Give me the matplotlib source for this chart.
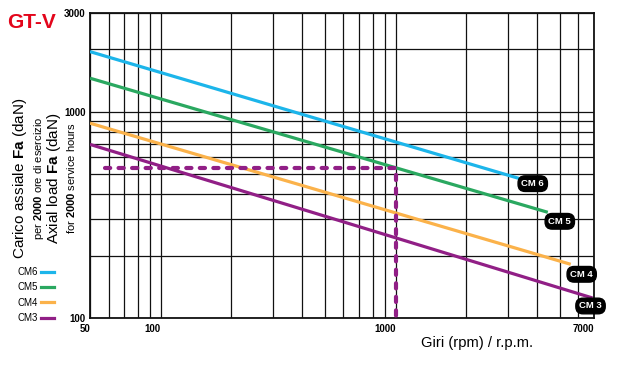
import matplotlib
matplotlib.use("Agg")
import matplotlib.pyplot as plt
from matplotlib.ticker import FixedLocator, NullFormatter, FixedFormatter
from matplotlib.lines import Line2D

plt.rcParams['font.family'] = ['Liberation Sans', 'DejaVu Sans']
plt.rcParams['mathtext.fontset'] = 'custom'
plt.rcParams['mathtext.rm'] = 'Liberation Sans'
plt.rcParams['mathtext.bf'] = 'Liberation Sans:bold'

# ---- data ----
series_names = ["CM6", "CM5", "CM4", "CM3"]
end_labels = ["CM 6", "CM 5", "CM 4", "CM 3"]
colors = ["#1cb5ea", "#2aa860", "#fbb24a", "#911f86"]
rpm_cm6 = [50, 3380]
load_cm6 = [1950, 473]
rpm_cm5 = [50, 4450]
load_cm5 = [1450, 325]
rpm_cm4 = [50, 5570]
load_cm4 = [878, 182]
rpm_cm3 = [50, 6900]
load_cm3 = [693, 125]
example_rpm = [58, 1000, 1000]
example_load = [532, 532, 100]

x_major = [50, 100, 1000, 7000]
x_minor = [60, 70, 80, 90, 200, 300, 400, 500, 600, 700, 800, 900,
           2000, 3000, 4000, 5000, 6000]
y_major = [100, 1000, 3000]
y_minor = [200, 300, 400, 500, 600, 700, 800, 900, 2000]

rpms = [rpm_cm6, rpm_cm5, rpm_cm4, rpm_cm3]
loads = [load_cm6, load_cm5, load_cm4, load_cm3]
label_offsets_px = [(13, 5), (12, 9), (11, 10), (-2, 8)]

fig = plt.figure(figsize=(6.36, 3.72), dpi=100)
ax = fig.add_axes([90/636, 1-318/372, (594-90)/636, (318-13)/372])
ax.set_xscale('log')
ax.set_yscale('log')
ax.set_xlim(50, 7000)
ax.set_ylim(100, 3000)

ax.xaxis.set_major_locator(FixedLocator(x_major))
ax.xaxis.set_major_formatter(FixedFormatter([str(v) for v in x_major]))
ax.xaxis.set_minor_locator(FixedLocator(x_minor))
ax.xaxis.set_minor_formatter(NullFormatter())
ax.yaxis.set_major_locator(FixedLocator(y_major))
ax.yaxis.set_major_formatter(FixedFormatter([str(v) for v in y_major]))
ax.yaxis.set_minor_locator(FixedLocator(y_minor))
ax.yaxis.set_minor_formatter(NullFormatter())
ax.grid(True, which='both', color='#111111', linewidth=0.9)
ax.tick_params(which='both', length=0, labelsize=7)
ax.tick_params(axis='x', pad=4)
ax.tick_params(axis='y', pad=3)
for lab in ax.get_xticklabels():
    lab.set_fontweight('bold')
    lab.set_horizontalalignment('right')
for lab in ax.get_yticklabels():
    lab.set_fontweight('bold')
for s in ax.spines.values():
    s.set_linewidth(1.3)
    s.set_color('#111111')
ax.set_axisbelow(True)

for r, l, c, lbl, (dx, dy) in zip(rpms, loads, colors, end_labels, label_offsets_px):
    ax.plot(r, l, color=c, linewidth=2.3, solid_capstyle='butt', zorder=3)
    ax.annotate(lbl, xy=(r[-1], l[-1]), xytext=(dx*0.72, -dy*0.72),
                textcoords='offset points', ha='center', va='center',
                color='white', fontsize=6.8, fontweight='bold', zorder=5,
                bbox=dict(boxstyle='round,pad=0.35,rounding_size=0.75',
                          fc='black', ec='black'))

ax.plot(example_rpm, example_load, color=colors[3], linewidth=3.0,
        linestyle=(0, (1.25, 2.0)), dash_capstyle='round', zorder=4,
        clip_on=False)

ax.set_xlabel("Giri (rpm) / r.p.m.", fontsize=10.6)
ax.xaxis.set_label_coords((477-90)/504, -(343-318)/305)
ax.xaxis.label.set_verticalalignment('center')

# y label block
yc = 1-178/372
fig.text(20/636, yc, r"Carico assiale $\mathbf{Fa}$ (daN)", rotation=90,
         ha='center', va='center', fontsize=11)
fig.text(39/636, yc, r"per $\mathbf{2000}$ ore di esercizio", rotation=90,
         ha='center', va='center', fontsize=8)
fig.text(54/636, yc, r"Axial load $\mathbf{Fa}$ (daN)", rotation=90,
         ha='center', va='center', fontsize=11)
fig.text(71/636, yc, r"for $\mathbf{2000}$ service hours", rotation=90,
         ha='center', va='center', fontsize=8)

# logo
fig.text(7/636, 1-22/372, "GT-V", color='#e3051b', fontsize=15,
         fontweight='bold', family=['Liberation Sans Narrow', 'Liberation Sans'],
         ha='left', va='center')

# legend
handles = [Line2D([0], [0], color=c, linewidth=2.3) for c in colors]
fig.legend(handles, series_names, loc='upper left', markerfirst=False,
           frameon=False, fontsize=7, handlelength=1.3, handletextpad=0.4,
           labelspacing=0.55, bbox_to_anchor=(17/636, 1-267/372),
           borderpad=0, borderaxespad=0)

fig.savefig("out.png", dpi=100)
